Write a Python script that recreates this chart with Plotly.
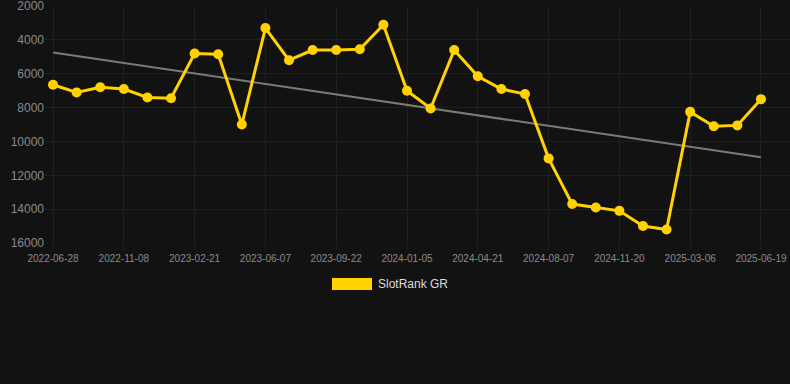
import numpy as np
import plotly.graph_objects as go

dates = [
    "2022-06-28", "2022-08-12", "2022-09-25", "2022-11-08", "2022-12-13", "2023-01-17",
    "2023-02-21", "2023-03-28", "2023-05-03", "2023-06-07", "2023-07-13", "2023-08-17",
    "2023-09-22", "2023-10-27", "2023-12-01", "2024-01-05", "2024-02-10", "2024-03-16",
    "2024-04-21", "2024-05-27", "2024-07-02", "2024-08-07", "2024-09-11", "2024-10-16",
    "2024-11-20", "2024-12-25", "2025-01-30", "2025-03-06", "2025-04-10", "2025-05-15",
    "2025-06-19",
]
ranks = [
    6650, 7100, 6800, 6900, 7400, 7450, 4800, 4850, 9000, 3300,
    5200, 4600, 4600, 4550, 3100, 7000, 8050, 4600, 6150, 6900,
    7200, 11000, 13700, 13900, 14100, 15000, 15200, 8250, 9100, 9050,
    7500,
]
series_name = "SlotRank GR"
y_ticks = [2000, 4000, 6000, 8000, 10000, 12000, 14000, 16000]

idx = np.arange(len(ranks))
slope, intercept = np.polyfit(idx, ranks, 1)
trend = slope * idx + intercept

BG = "#121212"
GRID = "#1f1f1f"
GOLD = "#FFD200"

fig = go.Figure()
fig.add_trace(go.Scatter(
    x=dates, y=trend, mode="lines",
    line=dict(color="#7a7a7a", width=2),
    showlegend=False, hoverinfo="skip",
))
fig.add_trace(go.Scatter(
    x=dates, y=ranks, mode="lines+markers", name=series_name,
    line=dict(color=GOLD, width=3),
    marker=dict(color=GOLD, size=10),
    showlegend=False,
))

fig.update_layout(
    width=790, height=384,
    paper_bgcolor=BG, plot_bgcolor=BG,
    margin=dict(l=45, r=0, t=6, b=141),
    font=dict(family="Liberation Sans, Arial, sans-serif", color="#8a8a8a"),
    xaxis=dict(
        type="category", range=[-0.34, 31.23],
        tickmode="array", tickvals=dates[::3], ticktext=dates[::3],
        showgrid=True, gridcolor=GRID, gridwidth=1,
        ticks="outside", ticklen=6, tickcolor=GRID,
        tickfont=dict(size=10, color="#8a8a8a"),
        showline=False, zeroline=False,
    ),
    yaxis=dict(
        range=[16000, 1995], tickmode="array",
        tickvals=y_ticks, ticktext=[str(v) for v in y_ticks],
        showgrid=True, gridcolor=GRID, gridwidth=1,
        tickfont=dict(size=12, color="#8a8a8a"),
        ticklabeloverflow="allow",
        ticks="", zeroline=False, showline=False,
    ),
    shapes=[dict(
        type="rect", xref="paper", yref="paper",
        x0=(332 - 45) / 745, x1=(372 - 45) / 745,
        y0=(243 - 290) / 237, y1=(243 - 278) / 237,
        fillcolor=GOLD, line=dict(width=0),
    )],
    annotations=[dict(
        xref="paper", yref="paper",
        x=(376 - 45) / 745, y=(243 - 284) / 237,
        xanchor="left", yanchor="middle",
        text=series_name, showarrow=False,
        font=dict(size=12, color="#dddddd"),
    )],
)

fig.write_html(
    "out.html",
    config={"displayModeBar": False},
    post_script="document.body.style.margin='0';document.body.style.background='#121212';",
)
